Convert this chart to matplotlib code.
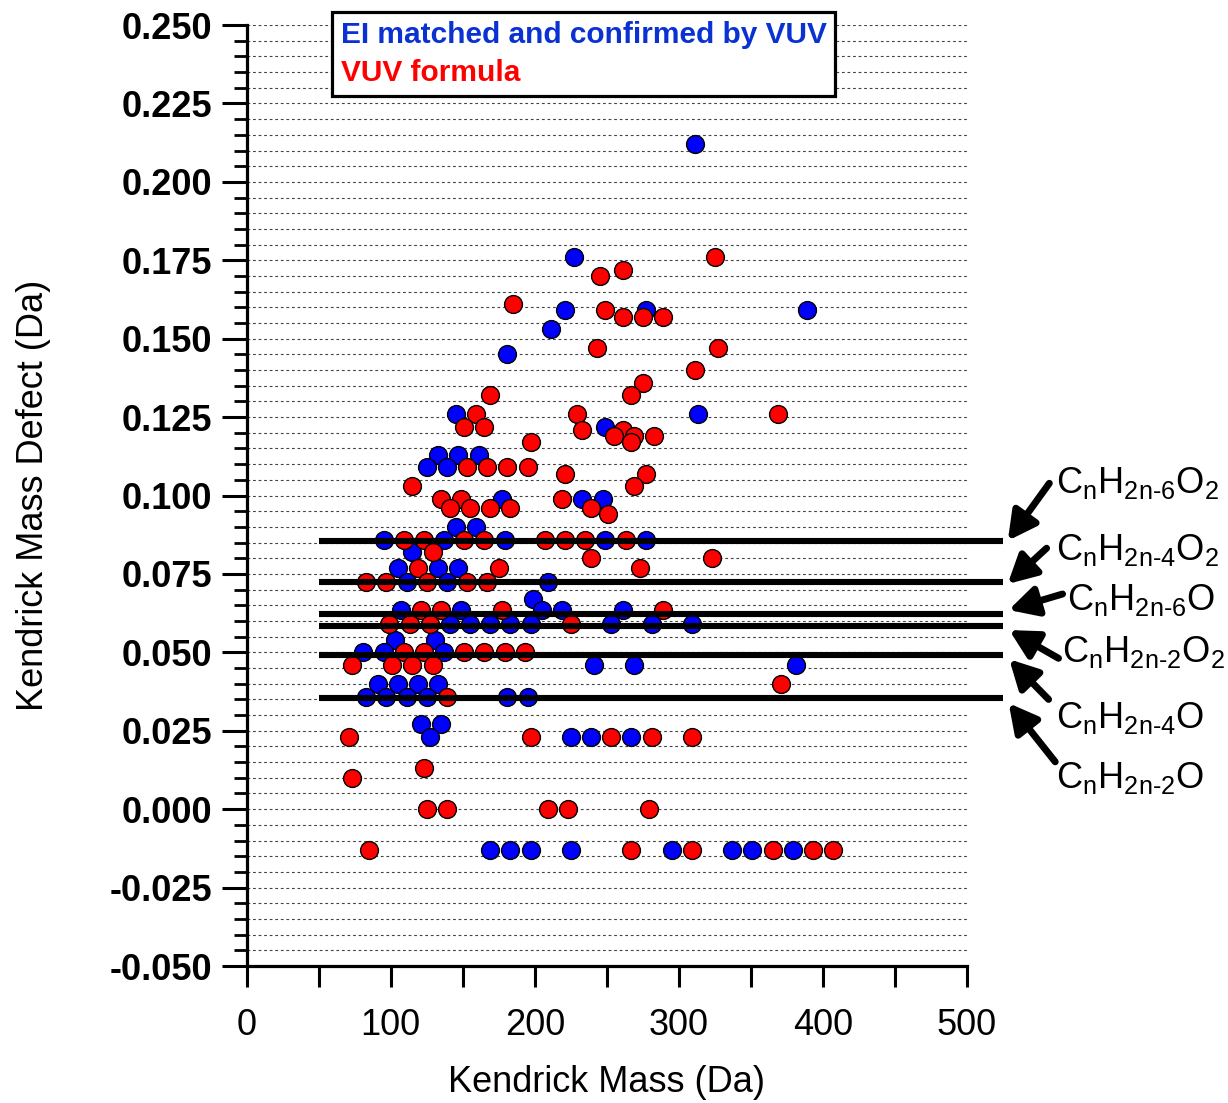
import matplotlib
matplotlib.use('Agg')
import matplotlib.pyplot as plt
from matplotlib.ticker import MultipleLocator, FormatStrFormatter

plt.rcParams['font.family'] = ['Liberation Sans', 'DejaVu Sans']
plt.rcParams['mathtext.fontset'] = 'custom'
plt.rcParams['mathtext.rm'] = 'Liberation Sans'
plt.rcParams['mathtext.it'] = 'Liberation Sans:italic'
plt.rcParams['mathtext.bf'] = 'Liberation Sans:bold'

# ---------------- data ----------------
ei_mass = [311, 227, 221, 277, 389, 211, 181, 145, 313, 249,
           133, 147, 161, 125, 139, 177, 233, 247, 145, 159,
           95, 137, 179, 249, 277, 115, 105, 133, 147, 111, 139, 209,
           199, 107, 149, 205, 219, 261,
           141, 155, 169, 183, 197, 253, 281, 309,
           103, 131, 81, 95, 137, 241, 269, 381,
           91, 105, 119, 133, 83, 97, 111, 125, 181, 195,
           121, 135, 127, 225, 239, 267,
           169, 183, 197, 225, 295, 337, 351, 379]
ei_kmd = [0.212, 0.176, 0.159, 0.159, 0.159, 0.153, 0.145, 0.126, 0.126, 0.122,
          0.113, 0.113, 0.113, 0.109, 0.109, 0.099, 0.099, 0.099, 0.090, 0.090,
          0.0858, 0.0858, 0.0858, 0.0858, 0.0858, 0.082, 0.077, 0.077, 0.077, 0.0725, 0.0725, 0.0725,
          0.067, 0.0635, 0.0635, 0.0635, 0.0635, 0.0635,
          0.059, 0.059, 0.059, 0.059, 0.059, 0.059, 0.059, 0.059,
          0.054, 0.054, 0.050, 0.050, 0.050, 0.046, 0.046, 0.046,
          0.040, 0.040, 0.040, 0.040, 0.0357, 0.0357, 0.0357, 0.0357, 0.0357, 0.0357,
          0.027, 0.027, 0.023, 0.023, 0.023, 0.023,
          -0.013, -0.013, -0.013, -0.013, -0.013, -0.013, -0.013, -0.013]

vuv_mass = [325, 261, 245, 185, 249, 261, 275, 289, 243, 327,
            311, 275, 169, 267, 159, 229, 369, 151, 165, 233, 261,
            255, 269, 283, 197, 267, 153, 167, 181, 195, 221, 277,
            115, 269, 135, 149, 219, 141, 155, 169, 183, 239, 251,
            109, 123, 151, 165, 207, 221, 235, 263,
            129, 239, 323, 119, 175, 273, 83, 97, 125, 153, 167,
            121, 135, 177, 289, 99, 113, 127, 225,
            109, 123, 151, 165, 179, 193, 73, 101, 115, 129,
            371, 139, 71, 197, 253, 281, 309, 123, 73,
            125, 139, 209, 223, 279,
            85, 267, 309, 365, 393, 407]
vuv_kmd = [0.176, 0.172, 0.170, 0.161, 0.159, 0.157, 0.157, 0.157, 0.147, 0.147,
           0.140, 0.136, 0.132, 0.132, 0.126, 0.126, 0.126, 0.122, 0.122, 0.121, 0.121,
           0.119, 0.119, 0.119, 0.117, 0.117, 0.109, 0.109, 0.109, 0.109, 0.107, 0.107,
           0.103, 0.103, 0.099, 0.099, 0.099, 0.096, 0.096, 0.096, 0.096, 0.096, 0.094,
           0.0858, 0.0858, 0.0858, 0.0858, 0.0858, 0.0858, 0.0858, 0.0858,
           0.082, 0.080, 0.080, 0.077, 0.077, 0.077, 0.0725, 0.0725, 0.0725, 0.0725, 0.0725,
           0.0635, 0.0635, 0.0635, 0.0635, 0.059, 0.059, 0.059, 0.059,
           0.050, 0.050, 0.050, 0.050, 0.050, 0.050, 0.046, 0.046, 0.046, 0.046,
           0.040, 0.0357, 0.023, 0.023, 0.023, 0.023, 0.023, 0.013, 0.010,
           0.000, 0.000, 0.000, 0.000, 0.000,
           -0.013, -0.013, -0.013, -0.013, -0.013, -0.013]

series_kmd = [0.0856, 0.0724, 0.0623, 0.0584, 0.0492, 0.0355]
series_labels = [r'$\mathregular{C_nH_{2n\text{-}6}O_2}$',
                 r'$\mathregular{C_nH_{2n\text{-}4}O_2}$',
                 r'$\mathregular{C_nH_{2n\text{-}6}O}$',
                 r'$\mathregular{C_nH_{2n\text{-}2}O_2}$',
                 r'$\mathregular{C_nH_{2n\text{-}4}O}$',
                 r'$\mathregular{C_nH_{2n\text{-}2}O}$']
legend_labels = ['EI matched and confirmed by VUV', 'VUV formula']

# ---------------- layout / style ----------------
line_x0, line_x1 = 50, 525
label_pos = [(561.7, 0.1007), (561.7, 0.0794), (569.5, 0.0635),
             (566.1, 0.0470), (561.7, 0.0259), (561.7, 0.0068)]
arrow_tail = [(557.1, 0.1039), (555.2, 0.0832), (566.3, 0.0686),
              (563.5, 0.0481), (556.6, 0.0350), (561.2, 0.0151)]
arrow_tip = [(528.3, 0.0856), (528.2, 0.0718), (528.9, 0.0635),
             (529.3, 0.0571), (529.3, 0.0478), (528.9, 0.0338)]

fig = plt.figure(figsize=(12.28, 11.03), dpi=100)
ax = fig.add_axes([0.2009, 0.1242, 0.5866, 0.8531])
ax.set_xlim(0, 500)
ax.set_ylim(-0.05, 0.25)

h_ei = ax.scatter(ei_mass, ei_kmd, s=165, c='#0000ff', edgecolors='black',
                  linewidths=1.0, zorder=3, label=legend_labels[0])
h_vuv = ax.scatter(vuv_mass, vuv_kmd, s=165, c='#ff0000', edgecolors='black',
                   linewidths=1.0, zorder=4, label=legend_labels[1])

for yv in series_kmd:
    ax.plot([line_x0, line_x1], [yv, yv], color='black', lw=4.4,
            solid_capstyle='butt', clip_on=False, zorder=5)

for lab, (tx, ty) in zip(series_labels, label_pos):
    ax.text(tx, ty, lab, fontsize=26, ha='left', va='baseline', clip_on=False)
for (x0, y0), (x1, y1) in zip(arrow_tail, arrow_tip):
    ax.annotate('', xy=(x1, y1), xytext=(x0, y0), annotation_clip=False,
                arrowprops=dict(arrowstyle='-|>,head_length=0.85,head_width=0.45',
                                mutation_scale=20, lw=5.0, color='black',
                                shrinkA=0, shrinkB=0))

# axes styling
for s in ['top', 'right']:
    ax.spines[s].set_visible(False)
for s in ['left', 'bottom']:
    ax.spines[s].set_linewidth(2.3)

ax.xaxis.set_major_locator(MultipleLocator(100))
ax.xaxis.set_minor_locator(MultipleLocator(50))
ax.yaxis.set_major_locator(MultipleLocator(0.025))
ax.yaxis.set_minor_locator(MultipleLocator(0.005))
ax.yaxis.set_major_formatter(FormatStrFormatter('%.3f'))

ax.tick_params(axis='y', which='major', direction='out', length=18, width=2.2,
               labelsize=26, pad=7)
ax.tick_params(axis='y', which='minor', direction='out', length=9.5, width=2.0)
ax.tick_params(axis='x', which='both', direction='out', length=15, width=2.2,
               labelsize=26, pad=15)
for t in ax.get_yticklabels():
    t.set_fontweight('bold')

ax.grid(axis='y', which='both', linestyle=(0, (2.5, 2.5)), color='#444444', lw=0.8)
ax.set_axisbelow(True)

ax.set_xlabel('Kendrick Mass (Da)', fontsize=26, labelpad=16)
ax.set_ylabel('Kendrick Mass Defect (Da)', fontsize=26, labelpad=42)

leg = ax.legend([h_ei, h_vuv], legend_labels, loc='upper left',
                bbox_to_anchor=(0.118, 1.014), borderaxespad=0,
                handlelength=0, handletextpad=0, frameon=True, fancybox=False,
                edgecolor='black', framealpha=1,
                prop={'size': 21.5, 'weight': 'bold'},
                borderpad=0.3, labelspacing=0.35)
leg.get_frame().set_linewidth(2.3)
for h in leg.legend_handles:
    h.set_visible(False)
for t, col in zip(leg.get_texts(), ['#0a32d2', '#ff0000']):
    t.set_color(col)
leg.set_zorder(10)

fig.savefig('out.png', dpi=100)
